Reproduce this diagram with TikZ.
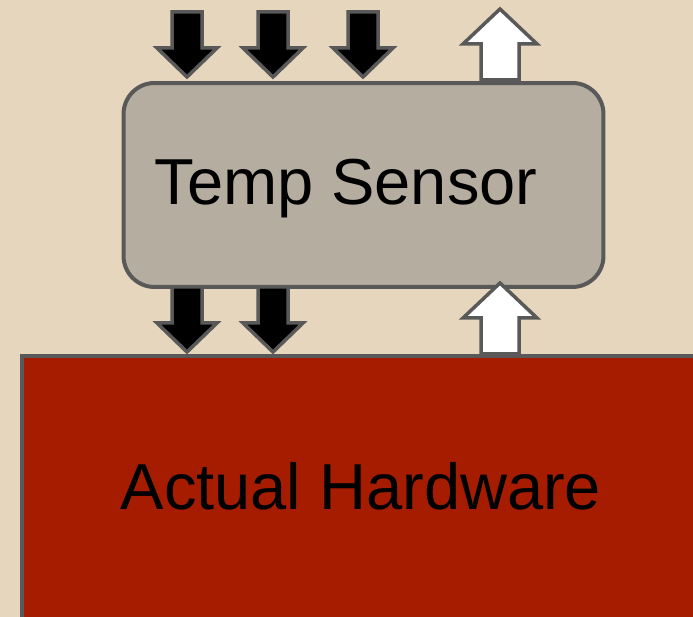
\documentclass[tikz,border=0pt]{standalone}
\usepackage{fontspec}
\setmainfont{Liberation Sans}
\usetikzlibrary{positioning}

\definecolor{sandbg}{HTML}{E6D6BD}
\definecolor{sensorgray}{HTML}{B5AEA0}
\definecolor{hwred}{HTML}{A61C00}
\definecolor{edgegray}{HTML}{595959}

\tikzset{
  sensorbox/.style={draw=edgegray, fill=sensorgray, line width=0.08cm, rounded corners=0.62cm,
    minimum width=9.6cm, minimum height=4.08cm, inner sep=0pt},
  hwbox/.style={draw=edgegray, fill=hwred, line width=0.08cm, minimum width=14cm,
    minimum height=6cm, inner sep=0pt},
  bigtext/.style={font=\fontsize{37}{42}\selectfont, text=black, inner sep=0pt},
  downarr/.pic={
    \draw[fill=black, draw=edgegray, line width=0.07cm, line join=miter]
      (-15,0) -- (15,0) -- (15,36) -- (30,36) -- (0,65) -- (-30,36) -- (-15,36) -- cycle;
  },
  uparr/.pic={
    \draw[fill=white, draw=edgegray, line width=0.07cm, line join=miter]
      (-19,0) -- (19,0) -- (19,-36) -- (37,-36) -- (0,-71) -- (-37,-36) -- (-19,-36) -- cycle;
  },
}

\begin{document}
\begin{tikzpicture}[x=0.02cm, y=-0.02cm, line cap=round]

\fill[sandbg] (0,0) rectangle (693,617);
\useasboundingbox (0,0) rectangle (693,617);
\clip (0,0) rectangle (693,617);

% sensor block
\node[sensorbox] (sensor) at (363.5,185) {};
\node[bigtext, anchor=base] (sensorlabel) at (346,205) {Temp Sensor};

% hardware block
\node[hwbox, anchor=north west] (hw) at (20,354) {};
\node[bigtext, anchor=base] (hwlabel) at (361,510) {Actual Hardware};

% inputs into the sensor
\foreach \ax in {187,273,363}
  \pic at (\ax,12) {downarr};
\pic at (500,80) {uparr};

% between sensor and hardware
\foreach \ax in {187,273}
  \pic at (\ax,287) {downarr};
\pic at (500,354) {uparr};

\end{tikzpicture}
\end{document}
